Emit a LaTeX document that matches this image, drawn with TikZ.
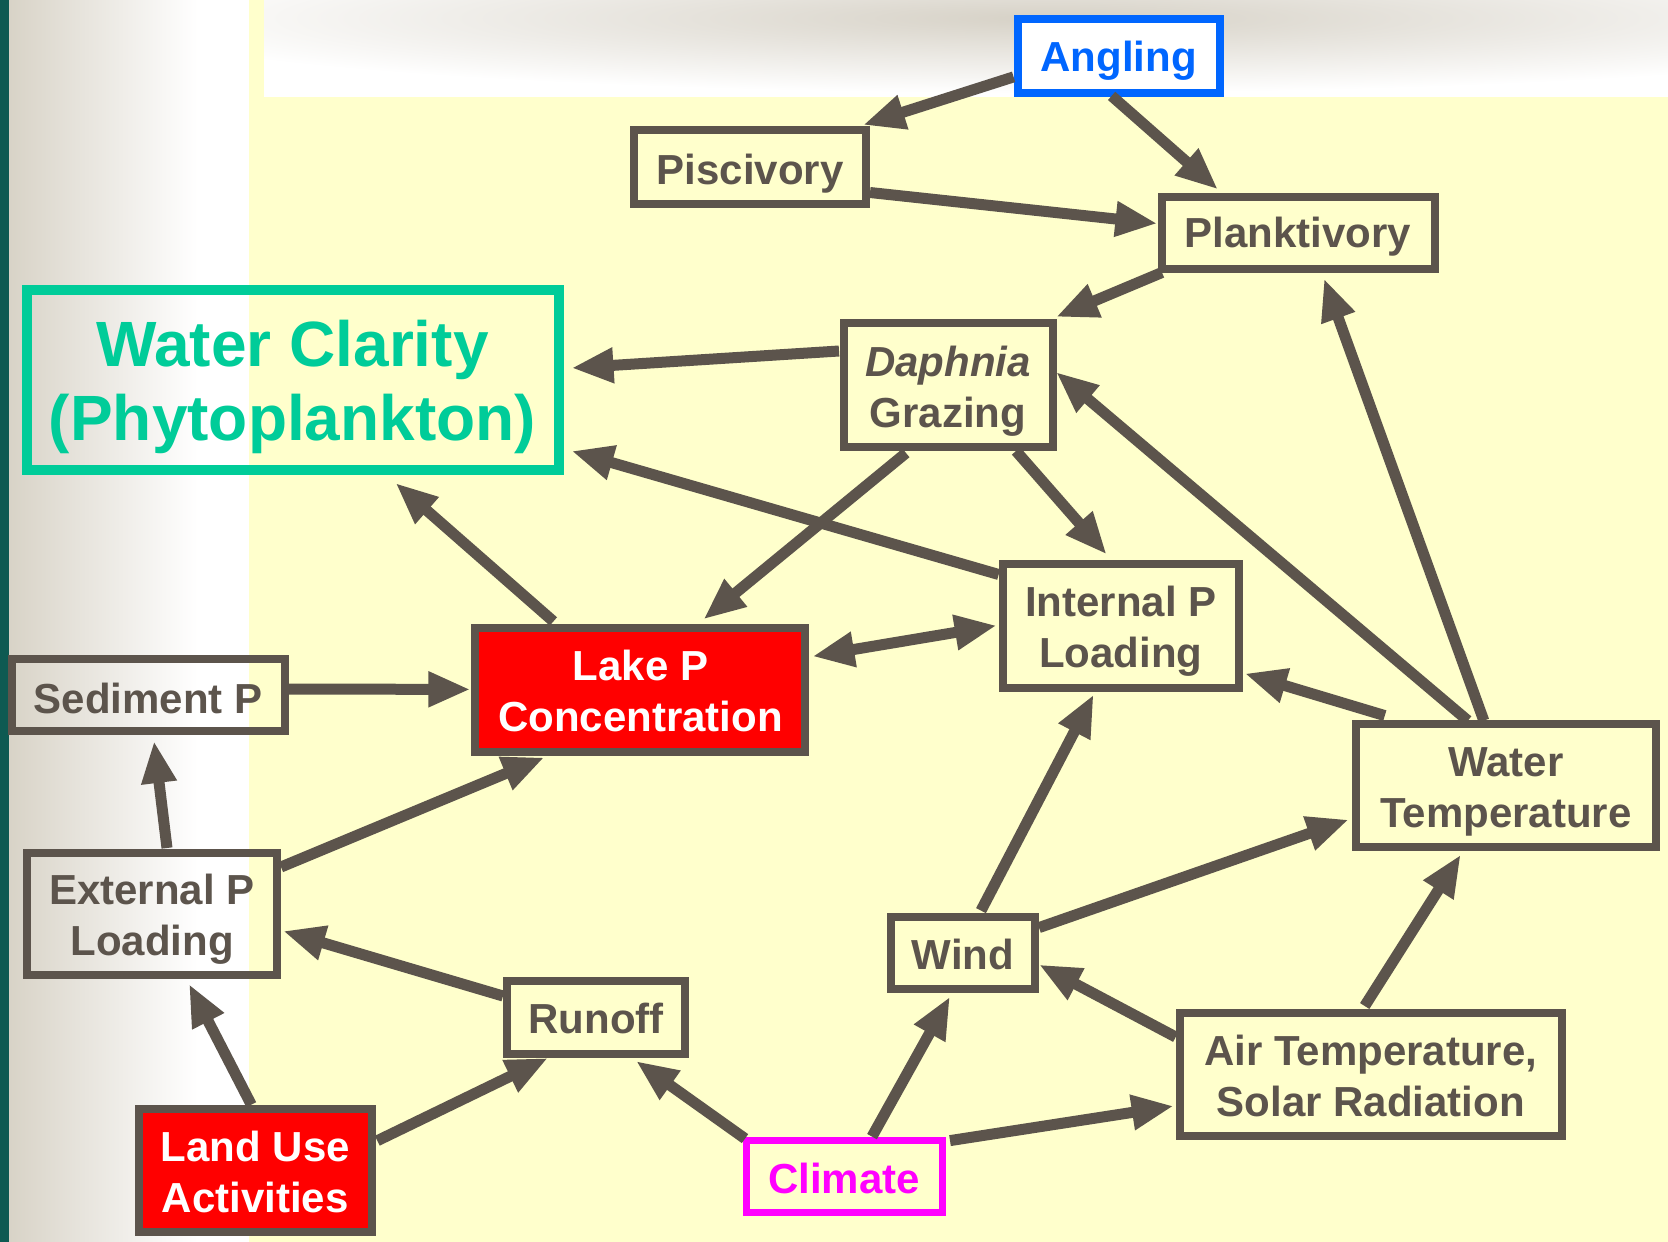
\documentclass[tikz,border=0pt]{standalone}
\usepackage{fontspec}
\setmainfont{Liberation Sans}
\usetikzlibrary{arrows.meta,calc}
\definecolor{bc}{HTML}{5C544C}
\definecolor{ybg}{HTML}{FFFFCC}
\definecolor{gl}{HTML}{D8D3C7}
\definecolor{topgray}{HTML}{D6D1C6}
\definecolor{tealstrip}{HTML}{0E5A52}
\definecolor{angblue}{HTML}{0066FF}
\definecolor{clar}{HTML}{00CC99}
\definecolor{mag}{HTML}{FF00FF}
\definecolor{redf}{HTML}{FF0000}
\tikzset{
  box/.style={draw=bc, line width=8pt, inner sep=0pt},
  txt/.style={text=bc, font=\bfseries\fontsize{42}{51}\selectfont, align=center, inner sep=0pt},
  arr/.style={draw=bc, line width=11pt, -{Triangle[length=42pt,width=33pt]}},
  darr/.style={draw=bc, line width=11pt, {Triangle[length=42pt,width=33pt]}-{Triangle[length=42pt,width=33pt]}}
}
\begin{document}
\begin{tikzpicture}[x=1pt,y=-1pt]
\useasboundingbox (0,0) rectangle (1668,1242);
% background
\fill[ybg] (0,0) rectangle (1668,1242);
\fill[white] (198,0) rectangle (249,1242);
\shade[left color=gl, right color=white] (9,0) rectangle (198,1242);
\fill[tealstrip] (0,0) rectangle (9,1242);
\fill[white] (264,0) rectangle (1668,97);
\begin{scope}
\clip (264,0) rectangle (1668,97);
\shade[inner color=topgray, outer color=white] (1050,18) ellipse [x radius=950, y radius=75];
\end{scope}

% boxes
\node[box, minimum width=202pt, minimum height=74pt, draw=angblue, fill=white] (ang) at (1118.6,55.9) {};
\node[box, minimum width=232pt, minimum height=74pt] (pis) at (750,167) {};
\node[box, minimum width=273pt, minimum height=72pt] (plk) at (1298,232.5) {};
\node[box, draw=clar, line width=10pt, minimum width=532pt, minimum height=180pt] (wc) at (292.5,380) {};
\node[box, minimum width=209pt, minimum height=124pt] (dap) at (948,385) {};
\node[box, minimum width=235.6pt, minimum height=124pt] (ipl) at (1120.7,625.5) {};
\node[box, fill=redf, minimum width=330pt, minimum height=124pt] (lpc) at (640.4,690.4) {};
\node[box, minimum width=273pt, minimum height=72pt] (sed) at (148,695) {};
\node[box, minimum width=249.4pt, minimum height=122pt] (epl) at (152,914) {};
\node[box, minimum width=299.4pt, minimum height=123pt] (wt) at (1505.8,785.6) {};
\node[box, minimum width=144pt, minimum height=72pt] (wnd) at (963,952.6) {};
\node[box, minimum width=178pt, minimum height=73pt] (run) at (596,1017) {};
\node[box, minimum width=382.4pt, minimum height=123pt] (air) at (1370.7,1074) {};
\node[box, fill=redf, minimum width=232.4pt, minimum height=123pt] (lu) at (255.3,1170.7) {};
\node[box, draw=mag, line width=7pt, minimum width=196pt, minimum height=72pt] (clm) at (844,1176.6) {};

% texts
\node[txt, text=angblue] (angT) at ($(ang)+(0,5)$) {Angling};
\node[txt] (pisT) at ($(pis)+(0,7)$) {Piscivory};
\node[txt] (plkT) at ($(plk)+(0,4)$) {Planktivory};
\node[txt, text=clar, font=\bfseries\fontsize{64}{74}\selectfont] (wcT) at ($(wc)+(0,7)$) {Water Clarity\\(Phytoplankton)};
\node[txt] (dapT) at ($(dap)+(0,6)$) {\textit{Daphnia}\\Grazing};
\node[txt] (iplT) at ($(ipl)+(0,6)$) {Internal P\\Loading};
\node[txt, text=white] (lpcT) at ($(lpc)+(0,1)$) {Lake P\\Concentration};
\node[txt] (sedT) at ($(sed)+(0,3)$) {Sediment P};
\node[txt] (eplT) at ($(epl)+(0,5)$) {External P\\Loading};
\node[txt] (wtT) at ($(wt)+(0,6)$) {Water\\Temperature};
\node[txt] (wndT) at ($(wnd)+(0,2)$) {Wind};
\node[txt] (runT) at ($(run)+(0,1)$) {Runoff};
\node[txt] (airT) at ($(air)+(0,2)$) {Air Temperature,\\Solar Radiation};
\node[txt, text=white] (luT) at ($(lu)+(0,1)$) {Land Use\\Activities};
\node[txt, text=mag] (clmT) at ($(clm)+(0,2)$) {Climate};

% connectors
\draw[arr] ($(ang)+(-105,21)$) -- ($(pis)+(113,-42)$);
\draw[arr] ($(ang)+(-7,40)$) -- ($(plk)+(-80,-43)$);
\draw[arr] ($(pis)+(120,25.5)$) -- ($(plk)+(-140.6,-9)$);
\draw[arr] ($(plk)+(-136,40)$) -- ($(dap)+(108,-68)$);
\draw[arr] ($(dap)+(-109,-34)$) -- ($(wc)+(279,-12)$);
\draw[arr] ($(ipl)+(-122,-51)$) -- ($(wc)+(279,71)$);
\draw[arr] ($(dap)+(68,66)$) -- ($(ipl)+(-14,-71)$);
\draw[arr] ($(dap)+(-42,68)$) -- ($(lpc)+(63,-71)$);
\draw[darr] ($(lpc)+(172,-34)$) -- ($(ipl)+(-124,0)$);
\draw[arr] ($(lpc)+(-87,-69)$) -- ($(wc)+(103,103)$);
\draw[arr] ($(sed)+(134,-6)$) -- ($(lpc)+(-170,-1)$);
\draw[arr] ($(epl)+(15,-66)$) -- ($(sed)+(6,46)$);
\draw[arr] ($(epl)+(129,-47)$) -- ($(lpc)+(-96,67)$);
\draw[arr] ($(run)+(-93,-21)$) -- ($(epl)+(131,17)$);
\draw[arr] ($(lu)+(-4,-66)$) -- ($(epl)+(37,70)$);
\draw[arr] ($(lu)+(122,-30)$) -- ($(run)+(-48,41)$);
\draw[arr] ($(clm)+(-99,-38)$) -- ($(run)+(40,44)$);
\draw[arr] ($(clm)+(28,-40)$) -- ($(wnd)+(-13,44)$);
\draw[arr] ($(clm)+(106,-36)$) -- ($(air)+(-197,32)$);
\draw[arr] ($(air)+(-195,-37)$) -- ($(wnd)+(76,12)$);
\draw[arr] ($(air)+(-6,-68)$) -- ($(wt)+(-45,69)$);
\draw[arr] ($(wnd)+(76,-25)$) -- ($(wt)+(-157,34)$);
\draw[arr] ($(wnd)+(18,-42)$) -- ($(ipl)+(-27,69)$);
\draw[arr] ($(wt)+(-121,-70)$) -- ($(ipl)+(124,48)$);
\draw[arr] ($(wt)+(-38,-65)$) -- ($(dap)+(108,-13)$);
\draw[arr] ($(wt)+(-22,-65)$) -- ($(plk)+(26,46)$);
\end{tikzpicture}
\end{document}
